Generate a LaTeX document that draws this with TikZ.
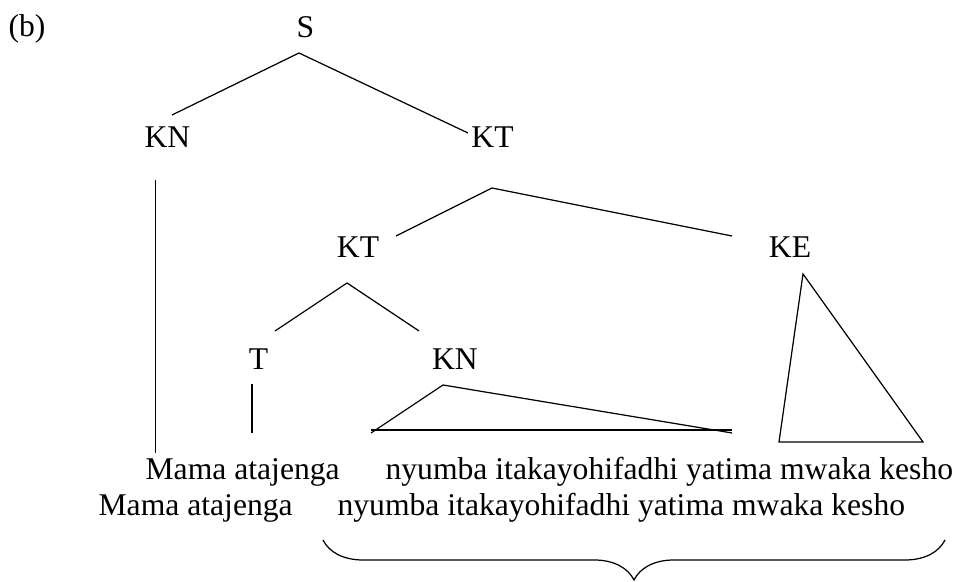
\documentclass[tikz,border=0pt]{standalone}
\usepackage{fontspec}
\setmainfont{Liberation Serif}
\usetikzlibrary{decorations.pathreplacing}
\tikzset{cat/.style={anchor=base,inner sep=0pt},
  words/.style={anchor=base west,inner sep=0pt}}
\begin{document}
\begin{tikzpicture}[line width=0.7pt,font=\fontsize{18}{21.6}\selectfont]
\useasboundingbox (0,0) rectangle (19.24,11.64);
\node[words] (tag) at (0.16,10.90) {(b)};
\node[cat] (s) at (6.11,10.88) {S};
\node[cat] (knA) at (3.35,8.68) {KN};
\node[cat] (ktA) at (9.85,8.68) {KT};
\node[cat] (ktB) at (7.16,6.48) {KT};
\node[cat] (ke) at (15.80,6.48) {KE};
\node[cat] (t) at (5.17,4.24) {T};
\node[cat] (knB) at (9.10,4.24) {KN};
\node[words] (mamaA) at (2.90,2.04) {Mama atajenga};
\node[words] (nyumbaA) at (7.70,2.04) {nyumba itakayohifadhi yatima mwaka kesho};
\node[words] (mamaB) at (1.96,1.32) {Mama atajenga};
\node[words] (nyumbaB) at (6.74,1.32) {nyumba itakayohifadhi yatima mwaka kesho};
% branch ends
\coordinate (sTop) at (5.98,10.58);
\coordinate (knAin) at (3.44,9.34);
\coordinate (ktAin) at (9.36,8.98);
\coordinate (knAtop) at (3.11,8.04);
\coordinate (knAbot) at (3.11,2.58);
\coordinate (ktAtop) at (9.84,7.88);
\coordinate (ktBin) at (7.92,6.92);
\coordinate (keIn) at (14.64,6.92);
\coordinate (ktBtop) at (6.94,5.98);
\coordinate (tIn) at (5.50,5.02);
\coordinate (knBin) at (8.38,5.02);
\coordinate (tTop) at (5.04,3.96);
\coordinate (tBot) at (5.04,2.98);
\coordinate (knBtop) at (8.86,3.94);
\coordinate (knBl) at (7.42,2.98);
\coordinate (knBr) at (14.64,2.98);
\coordinate (baseL) at (7.42,3.04);
\coordinate (baseR) at (14.64,3.04);
\coordinate (keTop) at (16.06,6.16);
\coordinate (keL) at (15.58,2.80);
\coordinate (keR) at (18.46,2.80);
\coordinate (braceL) at (6.46,0.84);
\coordinate (braceR) at (18.90,0.84);
\draw (knAin) -- (sTop) -- (ktAin);
\draw (knAtop) -- (knAbot);
\draw (ktBin) -- (ktAtop) -- (keIn);
\draw (tIn) -- (ktBtop) -- (knBin);
\draw (tTop) -- (tBot);
\draw (knBl) -- (knBtop) -- (knBr);
\draw (baseL) -- (baseR);
\draw (keTop) -- (keL) -- (keR) -- cycle;
% brace under the object
\draw[decorate,decoration={brace,mirror,amplitude=0.8cm}] (braceL) -- (braceR);
\end{tikzpicture}
\end{document}
